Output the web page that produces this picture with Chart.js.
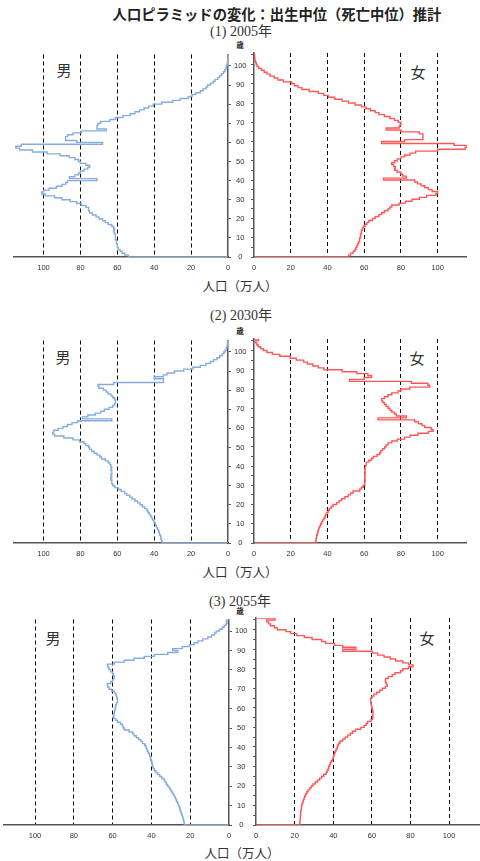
<!DOCTYPE html>
<html lang="ja">
<head>
<meta charset="UTF-8">
<title>人口ピラミッドの変化</title>
<script src="https://cdn.jsdelivr.net/npm/chart.js"></script>
<style>
  body { margin: 0; background: #fff; }
  #page { position: relative; width: 480px; height: 861px; overflow: hidden; color: #333;
          font-family: "Noto Sans CJK JP", "Noto Sans", sans-serif; }
  #page canvas { position: absolute; }
  .t { position: absolute; transform: translate(-50%, -50%); white-space: nowrap; line-height: 1; }
  .main { font-size: 14.3px; font-weight: bold; color: #222; }
  .year { font-size: 14px; font-family: "Liberation Serif", "Noto Sans CJK JP", serif; }
  .sex { font-size: 15px; }
  .unit { font-size: 12.5px; }
  .sai { font-size: 7.5px; font-weight: bold; color: #222; }
</style>
</head>
<body>
<div id="page">
  <div class="t main" style="left:277px;top:14px">人口ピラミッドの変化：出生中位（死亡中位）推計</div>

  <div class="t year" style="left:241px;top:31.5px">(1) 2005年</div>
  <div class="t sai" style="left:240px;top:45px">歳</div>
  <div class="t sex" style="left:64px;top:69px">男</div>
  <div class="t sex" style="left:418px;top:71px">女</div>
  <div class="t unit" style="left:240px;top:286px">人口（万人）</div>

  <div class="t year" style="left:241px;top:315.5px">(2) 2030年</div>
  <div class="t sai" style="left:240px;top:331px">歳</div>
  <div class="t sex" style="left:63px;top:356px">男</div>
  <div class="t sex" style="left:417px;top:357px">女</div>
  <div class="t unit" style="left:240px;top:572px">人口（万人）</div>

  <div class="t year" style="left:240px;top:602px">(3) 2055年</div>
  <div class="t sai" style="left:240px;top:611px">歳</div>
  <div class="t sex" style="left:53px;top:637px">男</div>
  <div class="t sex" style="left:427px;top:637px">女</div>
  <div class="t unit" style="left:242px;top:853px">人口（万人）</div>
</div>

<script>
// 年齢 0〜105歳（105は105歳以上）
const ages = [
  0, 1, 2, 3, 4, 5, 6, 7, 8, 9, 10, 11, 12, 13, 14, 15, 16, 17, 18, 19,
  20, 21, 22, 23, 24, 25, 26, 27, 28, 29, 30, 31, 32, 33, 34, 35, 36, 37, 38, 39,
  40, 41, 42, 43, 44, 45, 46, 47, 48, 49, 50, 51, 52, 53, 54, 55, 56, 57, 58, 59,
  60, 61, 62, 63, 64, 65, 66, 67, 68, 69, 70, 71, 72, 73, 74, 75, 76, 77, 78, 79,
  80, 81, 82, 83, 84, 85, 86, 87, 88, 89, 90, 91, 92, 93, 94, 95, 96, 97, 98, 99,
  100, 101, 102, 103, 104, 105
];

// 人口（万人）
const male2005 = [
  54, 56, 57.5, 58.5, 59.5, 60, 60, 60.5, 60.5, 61,
  61, 61, 61.5, 62, 61.5, 62, 63, 65, 66.5, 68,
  70, 71.5, 73.5, 75, 75.5, 75.5, 77, 79.5, 82, 85.5,
  90, 94, 99, 101, 100, 97, 93, 90, 88, 87,
  71, 86, 83, 81, 80, 78, 76, 75, 77, 80,
  81, 83, 86, 91, 98, 106, 113, 115, 112, 68,
  82, 88, 88, 87, 84, 79.5, 66, 71, 71, 70.5,
  69, 64, 61, 57, 53, 50.5, 48, 45.5, 43, 40.5,
  36, 30, 26, 21.5, 19.5, 17.5, 15, 13.5, 12, 11,
  9.5, 8, 7, 5.5, 4.5, 3.5, 2.5, 1.7, 1.2, 0.8,
  0.5, 0.3, 0.2, 0.1, 0.1, 0.1
];
const female2005 = [
  51.5, 52.5, 54, 55, 55.5, 56, 56.5, 57, 57.5, 57.5,
  58, 58, 58.5, 58.5, 59, 59.5, 60.5, 61.5, 62.5, 64.5,
  66, 68, 69.5, 71, 73, 74, 75, 79, 82.5, 86,
  90, 94, 99, 100, 97, 95, 93, 91, 89, 87.5,
  70.5, 83, 81, 80, 78, 76.5, 77, 76, 75, 76.5,
  78, 80, 82, 85, 88, 100, 115, 117, 109, 69.5,
  82, 92, 92, 92, 90, 80, 72, 79, 79.5, 80,
  78.5, 76.5, 74, 71, 68, 66, 63.5, 61, 58.5, 55,
  51.5, 48, 44, 40.5, 38, 35, 30, 26, 24, 22,
  20.5, 16, 13, 11, 8.7, 7, 5.5, 4, 2.5, 1.6,
  1.2, 0.8, 0.5, 0.4, 0.3, 0.2
];
const male2030 = [
  35.6, 36, 36.3, 36.5, 37, 37.3, 37.7, 38.2, 38.8, 39.3,
  39.6, 40.2, 40.8, 41.4, 42, 42.7, 43.4, 44, 45.2, 46.5,
  47.7, 49, 50.5, 52, 53.2, 55, 56, 58, 59.5, 61.3,
  62.5, 63, 63, 63.5, 63, 63.5, 63, 63, 63.5, 63,
  63.5, 64, 65, 66.5, 68.5, 69.5, 71, 72.5, 74, 75,
  75.5, 77, 78, 80.5, 84, 89, 94, 95, 94.5, 92,
  89.5, 87, 84.5, 81.5, 63, 79, 76, 72, 69, 67,
  64.5, 62.5, 61.5, 61, 61, 61.5, 62.5, 63.5, 65, 66,
  67.5, 70, 70.5, 62, 35, 35, 40, 35, 33, 29,
  24, 19, 15, 12, 9.5, 7.8, 6, 4.5, 3.2, 2.3,
  1.5, 1, 0.6, 0.4, 0.2, 0.3
];
const female2030 = [
  33.5, 33.7, 33.9, 34.1, 34.4, 34.7, 35, 35.3, 35.8, 36.3,
  36.8, 37.3, 38, 38.6, 39, 39.7, 40.4, 41, 42, 43,
  45, 46.3, 47.6, 49.5, 51.3, 52.5, 54, 57.6, 58.5, 59.5,
  60.3, 60.3, 60.5, 60.3, 60.5, 60.3, 60.5, 60.3, 60.5, 60.5,
  61, 61.2, 62.5, 64, 65, 67, 68.5, 69, 70, 71.2,
  72, 73, 75, 78, 82, 85, 89.3, 95, 97.5, 96.5,
  93, 91.5, 89.5, 87.5, 67.5, 83, 77.5, 76.5, 75, 74,
  73, 72, 71, 70, 69.5, 71, 73, 75, 78.4, 80,
  84.8, 95.7, 94.7, 85.7, 52, 60, 64, 62, 56, 48,
  38, 35, 32, 29, 27, 23, 19.6, 14, 10, 7,
  5, 3.5, 2.2, 1.4, 0.8, 2.4
];
const male2055 = [
  23, 23.2, 23.4, 23.7, 24, 24.3, 24.7, 25.1, 25.4, 25.7,
  26.1, 26.5, 27, 27.4, 27.9, 28.5, 29, 29.7, 30.3, 30.9,
  31.7, 32.4, 33, 33.5, 34.6, 35.7, 36.8, 37.7, 38.5, 39,
  39.4, 39.6, 39.8, 40.2, 40.5, 40.8, 41.1, 41.6, 42.1, 42.5,
  42.8, 43.5, 44.5, 45.4, 46.5, 47.8, 49, 49.7, 51.5, 54,
  54.5, 55, 56, 57.5, 58.5, 59.6, 59.4, 59.2, 59, 58.8,
  58.6, 58.4, 58, 57.5, 57.5, 57.7, 58, 58.4, 59, 60.5,
  61.8, 62.5, 62.7, 61, 60, 59.5, 59.2, 59.6, 60.1, 61,
  61.8, 62.3, 62.7, 59.2, 54, 49, 43.7, 38.5, 31.6, 26.4,
  29, 24, 20.4, 18, 16, 13.5, 10.9, 9, 7.5, 6.6,
  5, 3.5, 2.5, 1.5, 1, 1.4
];
const female2055 = [
  22.6, 22.7, 22.8, 22.9, 23, 23.1, 23.1, 23.3, 23.5, 23.6,
  23.8, 24.2, 24.5, 24.9, 25.2, 25.7, 26.3, 26.9, 27.8, 28.6,
  29.5, 30.6, 31.8, 32.9, 34, 35, 36.3, 36.8, 37.3, 37.6,
  38, 38.5, 39, 39.7, 40, 40.3, 40.6, 41, 41.5, 42,
  42.3, 42.8, 43.5, 44.9, 46.2, 47.5, 48.8, 50, 51.5, 54.3,
  56, 57, 57.7, 59.5, 60.3, 60.5, 60.6, 60.6, 60.4, 60.2,
  59.9, 59.7, 59.5, 59.4, 59.4, 60, 61.1, 62.5, 64, 65.4,
  67, 68, 67.5, 67, 67.1, 68.5, 70.5, 72, 74.8, 76,
  79.1, 81.3, 79.1, 76, 72.3, 69.5, 66.3, 63, 60.3, 44.9,
  51.7, 44.9, 40.6, 36, 34, 29, 25, 21, 18, 15.5,
  11, 9.5, 7.5, 6.5, 5.5, 9.8
];

Chart.defaults.font.family = "'Liberation Sans', Arial, sans-serif";

const page = document.getElementById('page');

function addCanvas(left, top, w, h) {
  const c = document.createElement('canvas');
  c.width = w;
  c.height = h;
  c.style.left = left + 'px';
  c.style.top = top + 'px';
  c.style.width = w + 'px';
  c.style.height = h + 'px';
  page.appendChild(c);
  return c;
}

function pyramid(canvas, values, male, padLeft) {
  const pts = [{x: 0, y: 0}];
  ages.forEach((a, i) => pts.push({x: values[i], y: a}));
  pts.push({x: 0, y: 106});

  return new Chart(canvas, {
    type: 'scatter',
    data: {
      datasets: [{
        data: pts,
        showLine: true,
        stepped: 'after',
        pointRadius: 0,
        borderColor: male ? '#86acdf' : '#ff5757',
        borderWidth: 1.4
      }]
    },
    options: {
      responsive: false,
      animation: false,
      events: [],
      plugins: { legend: { display: false }, tooltip: { enabled: false } },
      layout: { padding: { top: 6, left: padLeft, right: 0, bottom: 0 } },
      scales: {
        x: {
          type: 'linear', min: 0, max: 116, reverse: male,
          ticks: { stepSize: 20, includeBounds: false, padding: 6, color: '#333', font: { size: 7.5 } },
          grid: {
            drawTicks: false, lineWidth: 1,
            color: c => (c.tick && c.tick.value === 0) ? 'rgba(0,0,0,0)' : '#000'
          },
          border: { color: '#555', width: 1.5, dash: [4, 3] },
          afterFit: s => { s.height = 20; }
        },
        y: {
          type: 'linear', min: 0, max: 106, position: male ? 'right' : 'left',
          ticks: { stepSize: 5, includeBounds: false, display: male, crossAlign: 'center',
                   padding: 3, color: '#333', font: { size: 7.5 } },
          grid: { drawOnChartArea: false, drawTicks: true, tickLength: 3, tickColor: '#555', tickWidth: 1 },
          border: { color: '#555', width: 1.5 },
          afterFit: s => { s.width = male ? 24 : 6; }
        }
      }
    }
  });
}

// (1) 2005年
pyramid(addCanvas(0, 47, 252, 230), male2005, true, 14);
pyramid(addCanvas(246, 47, 221, 230), female2005, false, 0);
// (2) 2030年
pyramid(addCanvas(0, 333, 252, 230), male2030, true, 14);
pyramid(addCanvas(246, 333, 221, 230), female2030, false, 0);
// (3) 2055年
pyramid(addCanvas(0, 612, 253, 233), male2055, true, 4);
pyramid(addCanvas(248, 612, 232, 233), female2055, false, 0);
</script>
</body>
</html>
